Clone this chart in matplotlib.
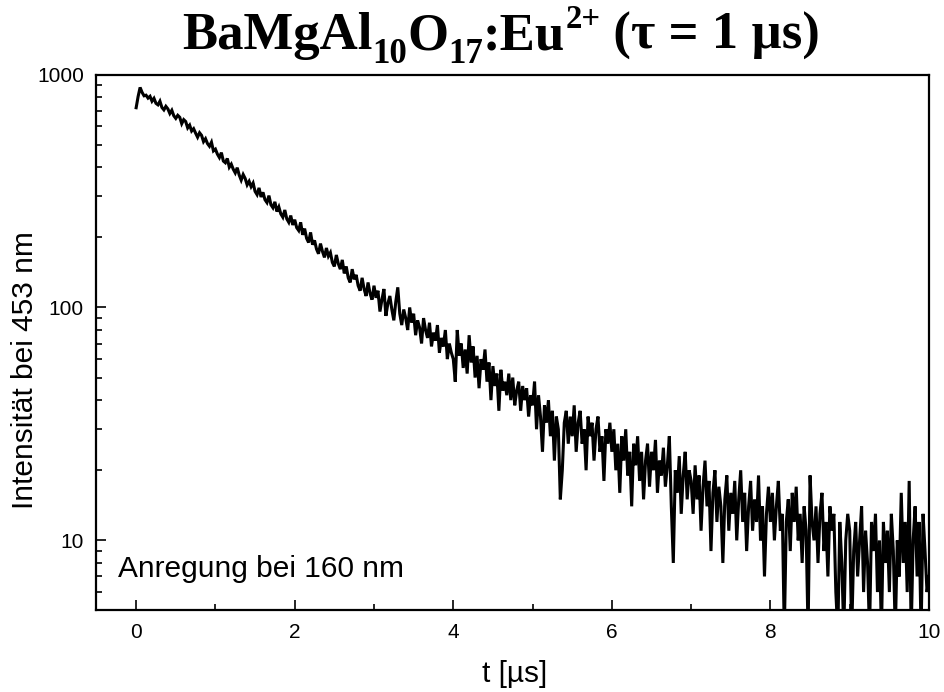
import numpy as np
import matplotlib
matplotlib.use("Agg")
import matplotlib.pyplot as plt
from matplotlib.ticker import LogLocator, NullFormatter, FixedLocator

# Time resolution of the decay trace (µs per channel)
t_step_us = 0.025

# Emission intensity at 453 nm, one list per microsecond of the trace
counts_0 = [720, 805, 880, 838, 810, 815, 792, 806, 768, 790,
            752, 741, 768, 722, 705, 730, 712, 680, 702, 665,
            648, 668, 655, 615, 640, 628, 590, 606, 572, 585,
            560, 538, 562, 548, 515, 530, 505, 492, 512, 470]
counts_1 = [478, 455, 440, 462, 425, 418, 436, 400, 412, 392,
            378, 398, 370, 352, 372, 358, 336, 348, 330, 342,
            315, 305, 326, 298, 312, 290, 282, 302, 276, 268,
            284, 258, 270, 252, 244, 262, 240, 232, 248, 226]
counts_2 = [238, 220, 214, 232, 205, 218, 198, 190, 210, 186,
            194, 178, 170, 188, 174, 164, 180, 166, 172, 156,
            150, 168, 154, 146, 160, 140, 150, 134, 128, 146,
            132, 138, 124, 118, 134, 120, 112, 128, 115, 108]
counts_3 = [124, 110, 118, 96, 108, 120, 92, 104, 112, 98,
            88, 106, 122, 94, 84, 98, 90, 80, 100, 86,
            94, 76, 88, 82, 70, 90, 80, 74, 86, 68,
            78, 72, 84, 64, 74, 68, 80, 60, 70, 64]
counts_4 = [60, 48, 80, 62, 70, 55, 66, 52, 76, 58,
            68, 50, 62, 45, 60, 54, 66, 48, 58, 40,
            56, 46, 52, 36, 54, 44, 48, 42, 52, 40,
            50, 38, 44, 48, 36, 46, 40, 45, 34, 42]
counts_5 = [38, 48, 30, 42, 34, 24, 38, 32, 40, 28,
            36, 22, 34, 30, 15, 20, 32, 36, 26, 34,
            28, 38, 24, 32, 36, 26, 30, 20, 34, 28,
            32, 22, 30, 34, 24, 28, 18, 30, 26, 32]
counts_6 = [24, 30, 20, 26, 16, 28, 22, 30, 19, 24,
            14, 26, 21, 28, 18, 24, 15, 22, 26, 17,
            24, 20, 27, 16, 22, 19, 25, 17, 21, 28,
            14, 8, 20, 16, 23, 13, 19, 24, 15, 20]
counts_7 = [18, 13, 21, 15, 19, 11, 17, 22, 14, 18,
            9, 16, 20, 12, 17, 14, 8, 15, 19, 11,
            16, 13, 18, 10, 15, 20, 12, 16, 9, 14,
            18, 11, 15, 12, 19, 10, 14, 7, 13, 17]
counts_8 = [12, 16, 10, 14, 18, 11, 13, 4, 12, 15,
            9, 16, 12, 17, 10, 13, 8, 14, 11, 4,
            19, 12, 10, 14, 8, 13, 16, 9, 12, 7,
            14, 11, 13, 6, 4, 12, 8, 4, 10, 13]
counts_9 = [11, 4, 9, 12, 7, 10, 14, 6, 11, 8,
            4, 12, 9, 13, 6, 10, 4, 12, 8, 11,
            6, 13, 9, 4, 10, 7, 16, 8, 12, 6,
            18, 4, 10, 14, 7, 12, 4, 13, 9, 6,
            7]

intensity = np.array(counts_0 + counts_1 + counts_2 + counts_3 + counts_4 +
                     counts_5 + counts_6 + counts_7 + counts_8 + counts_9,
                     dtype=float)
t = np.arange(len(intensity)) * t_step_us

x_ticks = [0, 2, 4, 6, 8, 10]
x_minor_ticks = [1, 3, 5, 7, 9]
y_ticks = [10, 100, 1000]
y_tick_labels = ["10", "100", "1000"]

# Title pieces: (text, size factor, baseline shift in units of the main size)
title_pieces = [("BaMgAl", 1.0, 0.0), ("10", 0.66, -0.27), ("O", 1.0, 0.0),
                ("17", 0.66, -0.27), (":Eu", 1.0, 0.0), ("2+", 0.62, 0.40),
                (" (τ = 1 µs)", 1.0, 0.0)]

plt.rcParams["font.family"] = ["Liberation Sans", "DejaVu Sans"]

W, H = 945, 692
fig = plt.figure(figsize=(W / 100, H / 100), dpi=100)
ax = fig.add_axes([96.5 / W, 1 - 609.5 / H, 832.5 / W, 535 / H])

ax.plot(t, intensity, color="black", lw=2.2, solid_joinstyle="miter")

ax.set_yscale("log")
ax.set_xlim(-0.5, 10)
ax.set_ylim(5.05, 1000)

ax.xaxis.set_major_locator(FixedLocator(x_ticks))
ax.xaxis.set_minor_locator(FixedLocator(x_minor_ticks))
ax.yaxis.set_major_locator(FixedLocator(y_ticks))
ax.set_yticklabels(y_tick_labels)
ax.yaxis.set_minor_locator(LogLocator(base=10, subs=np.arange(2, 10), numticks=20))
ax.yaxis.set_minor_formatter(NullFormatter())

for side in ["left", "bottom", "top", "right"]:
    ax.spines[side].set_linewidth(1.6)

ax.tick_params(axis="both", which="major", direction="in", length=7, width=1.2,
               labelsize=15, top=False, right=False)
ax.tick_params(axis="both", which="minor", direction="in", length=4, width=1.2,
               top=False, right=False)
ax.tick_params(axis="y", which="major", pad=9)
ax.tick_params(axis="x", which="major", pad=10)

fig.text(515 / W, 1 - 674 / H, "t [µs]", fontsize=21.5, ha="center", va="center")
fig.text(25 / W, 1 - 370 / H, "Intensität bei 453 nm", fontsize=21.5,
         rotation=90, ha="center", va="center")

ax.text(0.0258, 0.0607, "Anregung bei 160 nm", transform=ax.transAxes,
        fontsize=21.5, ha="left", va="baseline")

# Title assembled from pieces so that sub- and superscripts sit tightly
title_size = 38
title_center_px = 501
title_baseline_px = H - 49
renderer = fig.canvas.get_renderer()
texts, widths = [], []
for s, f, dy in title_pieces:
    txt = fig.text(0, 0, s, fontsize=title_size * f, family="Liberation Serif",
                   weight="bold", ha="left", va="baseline")
    widths.append(txt.get_window_extent(renderer).width)
    texts.append(txt)
x_px = title_center_px - sum(widths) / 2
em_px = title_size * 100 / 72
for txt, w, (s, f, dy) in zip(texts, widths, title_pieces):
    txt.set_position((x_px / W, (title_baseline_px + dy * em_px) / H))
    x_px += w

fig.savefig("out.png", dpi=100)
